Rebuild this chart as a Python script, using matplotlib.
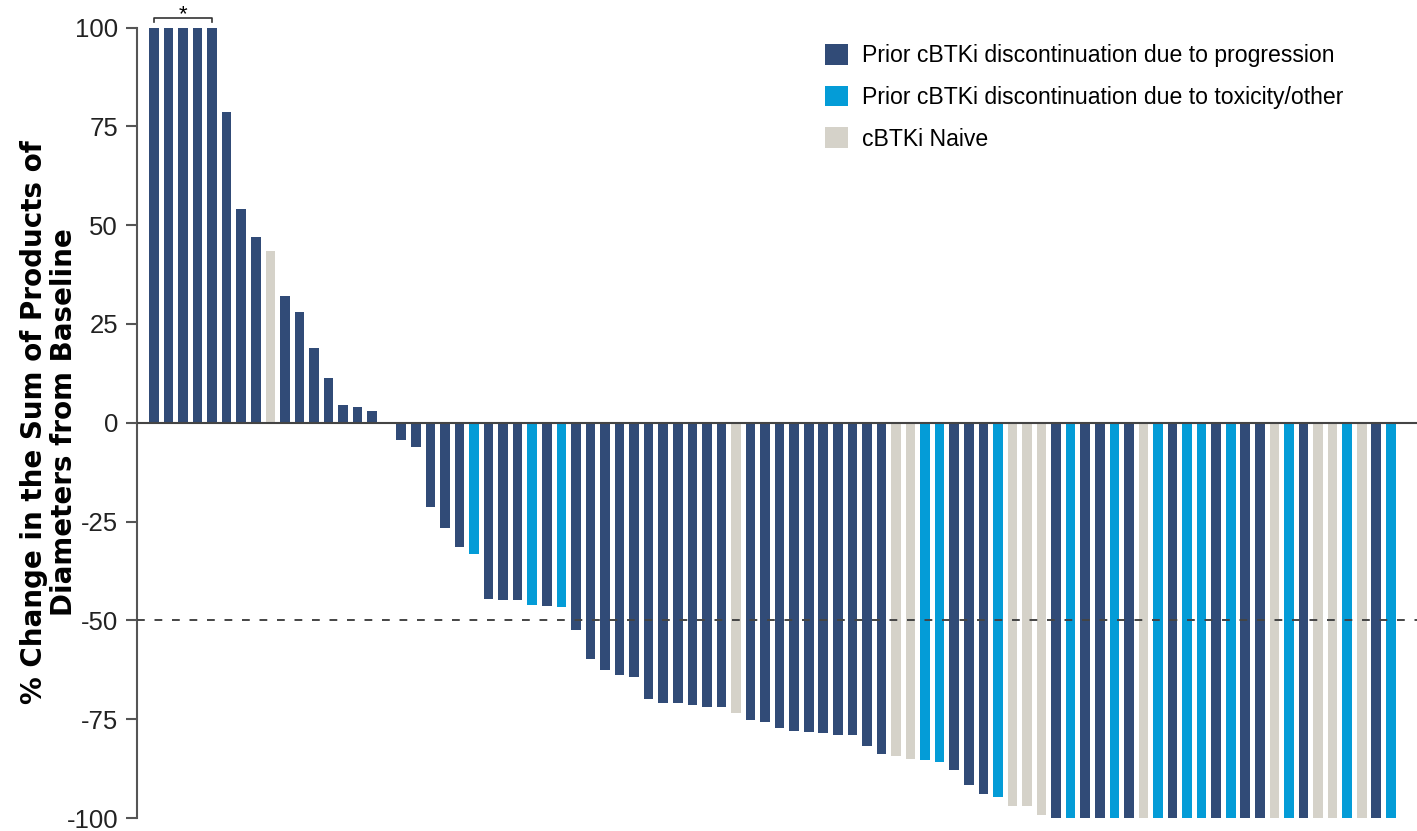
import matplotlib
matplotlib.use("Agg")
import matplotlib.pyplot as plt
from matplotlib.patches import Patch
import numpy as np

plt.rcParams["font.family"] = ["Liberation Sans", "DejaVu Sans"]
plt.rcParams["axes.unicode_minus"] = False

# % change from baseline, one bar per patient (sorted)
pct_change = [
    100, 100, 100, 100, 100, 78.7, 54.1, 47.1, 43.4, 32.1, 27.9, 19.0, 11.3, 4.6, 4.0, 2.9,
    0,
    -4.4, -6.1, -21.4, -26.6, -31.4, -33.3, -44.7, -44.9, -44.9, -46.2, -46.3, -46.7,
    -52.5, -59.8, -62.6, -63.7, -64.4,
    -69.9, -70.9, -70.9, -71.3, -71.8, -72.0, -73.5, -75.1, -75.7, -77.1, -77.9, -78.3,
    -78.4, -79.1, -79.1, -81.9,
    -83.9, -84.3, -85.0, -85.4, -85.9, -87.8, -91.7, -93.8, -94.6, -97.0, -97.0, -99.3,
    -100, -100, -100, -100, -100, -100,
    -100, -100, -100, -100, -100, -100, -100, -100, -100,
    -100, -100, -100, -100, -100, -100, -100, -100, -100,
]

# P = progression, T = toxicity/other, N = naive
group = list(
    "PPPPPPPPNPPPPPPP"
    "P"
    "PPPPPTPPPTPTPPPPP"
    "PPPPPPNPPPPPPPPP"
    "PNNTTPPPTNNNPTPPTP"
    "NTPTTPTPPNTPNNTNPT"
)

GROUP_LABELS = {
    "P": "Prior cBTKi discontinuation due to progression",
    "T": "Prior cBTKi discontinuation due to toxicity/other",
    "N": "cBTKi Naive",
}
GROUP_COLORS = {"P": "#314b77", "T": "#049cd7", "N": "#d5d2c9"}

Y_TICKS = [-100, -75, -50, -25, 0, 25, 50, 75, 100]

fig = plt.figure(figsize=(14.17, 8.31), dpi=100)
ax = fig.add_axes([0.097, 0.0156, 0.903, 0.9513])

x = np.arange(len(pct_change))
colors = [GROUP_COLORS[g] for g in group]
ax.bar(x, pct_change, width=0.66, color=colors, edgecolor="none", zorder=2)

ax.set_xlim(-1.13, 86.8)
ax.set_ylim(-100, 100)
ax.axhline(0, color="#444444", lw=1.5, zorder=3)
ax.axhline(-50, color="#444444", lw=1.4, dashes=(4, 5), zorder=3)

for side in ["top", "right", "bottom"]:
    ax.spines[side].set_visible(False)
ax.spines["left"].set_color("#555555")
ax.spines["left"].set_linewidth(1.5)
ax.set_xticks([])
ax.set_yticks(Y_TICKS)
ax.tick_params(axis="y", length=8, width=1.5, color="#555555", pad=6,
               labelsize=18.5, labelcolor="#222222")

# bracket + asterisk over the first five bars
top = 100
ax.plot([0, 0, 4, 4], [top + 1.3, top + 2.4, top + 2.4, top + 1.3],
        color="#333333", lw=1.2, clip_on=False)
ax.text(2, top + 0.5, "*", ha="center", va="bottom", fontsize=16, clip_on=False)

fig.text(49 / 1417, 1 - 422 / 831,
         "% Change in the Sum of Products of\nDiameters from Baseline",
         rotation=90, ha="center", va="center", fontsize=20, fontweight="bold",
         family="DejaVu Sans", linespacing=1.05)

handles = [Patch(facecolor=GROUP_COLORS[k], edgecolor="none", label=GROUP_LABELS[k])
           for k in ["P", "T", "N"]]
fig.legend(handles=handles, loc="upper left", bbox_to_anchor=(825 / 1417, 1 - 44 / 831),
           frameon=False, fontsize=16.6, handlelength=1.0, handleheight=1.0,
           handletextpad=0.6, labelspacing=0.8, borderpad=0, borderaxespad=0)

fig.savefig("out.png", dpi=100)
